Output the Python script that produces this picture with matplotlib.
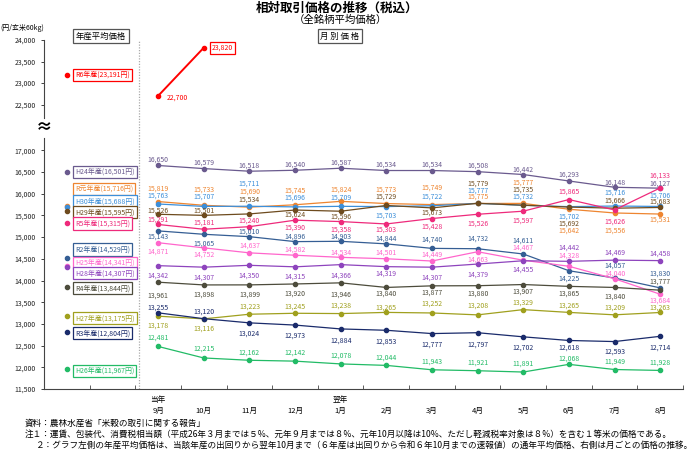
import matplotlib
matplotlib.use("Agg")
import matplotlib.pyplot as plt
from matplotlib.transforms import blended_transform_factory
from matplotlib.lines import Line2D
from matplotlib.ticker import FuncFormatter

plt.rcParams['font.family'] = ['Noto Sans CJK JP', 'DejaVu Sans']

# ---------------- data ----------------
months = ["9月", "10月", "11月", "12月", "1月", "2月", "3月", "4月", "5月", "6月", "7月", "8月"]
year_marks = ["当年", "", "", "", "翌年", "", "", "", "", "", "", ""]

series_names = ["H24", "R元", "H30", "H29", "R5", "R2", "H25", "H28", "R4", "H27", "R3", "H26"]
annual_avg = [16501, 15716, 15688, 15595, 15315, 14529, 14341, 14307, 13844, 13175, 12804, 11967]

h24 = [16650, 16579, 16518, 16540, 16587, 16534, 16534, 16508, 16442, 16293, 16148, 16127]
r1 = [15819, 15733, 15690, 15745, 15824, 15773, 15749, 15775, 15777, 15642, 15556, 15531]
h30 = [15763, 15707, 15711, 15696, 15709, 15703, 15722, 15777, 15732, 15702, 15716, 15706]
h29 = [15526, 15501, 15534, 15624, 15596, 15729, 15673, 15779, 15735, 15692, 15666, 15683]
r5 = [15291, 15181, 15240, 15390, 15358, 15303, 15428, 15526, 15597, 15865, 15626, 16133]
r2 = [15143, 15065, 15010, 14896, 14903, 14844, 14740, 14732, 14611, 14225, 14057, 13830]
h25 = [14871, 14752, 14637, 14582, 14534, 14501, 14449, 14663, 14467, 14328, 14040, 13684]
h28 = [14342, 14307, 14350, 14315, 14366, 14319, 14307, 14379, 14455, 14442, 14469, 14458]
r4 = [13961, 13898, 13899, 13920, 13946, 13840, 13877, 13880, 13907, 13865, 13840, 13777]
h27 = [13178, 13116, 13223, 13245, 13238, 13265, 13252, 13208, 13329, 13265, 13209, 13263]
r3 = [13255, 13120, 13024, 12973, 12884, 12853, 12777, 12797, 12702, 12618, 12593, 12714]
h26 = [12481, 12215, 12162, 12142, 12078, 12044, 11943, 11921, 11891, 12068, 11949, 11928]

r6_name = "R6"
r6_avg = 23191
r6 = [22700, 23820]

series_values = [h24, r1, h30, h29, r5, r2, h25, h28, r4, h27, r3, h26]

# ---------------- styles / layout ----------------
colors = ["#6a5a8e", "#ee8530", "#3d8fd9", "#6e4b1e", "#ee2a7b", "#355e94",
          "#ff66cc", "#8e44bd", "#4d4c3c", "#a0a01e", "#1a2b6b", "#22bb66"]
r6_color = "#ff0000"

# label vertical offsets in pixels (positive = downwards)
label_dy = [
    [-6, -6, -6, -6, -6, -6, -6, -6, -5, -6, -5, -5],
    [-12.6, -16, -15, -14, -12, -14, -16.5, -6.5, -21, 21, 18, 5.5],
    [-8, -10, -22.6, -9, -9, 9, -9, -13, -9, 10, -13, -11],
    [-4, -5, -14.6, 5, 5, -9, 5, -20, -15.6, 16.6, -8, -5.5],
    [-5, -7, -6, 7, 8, 6, 8, 9, 9, -8, 12, -12.5],
    [6, 9, -5, -5, -5, -5, -9, -10, -13.6, 8, -12, -14],
    [9, 7, -7, -6, -5, -6, -6, 8, -13, -11, -5, 6],
    [10, 10, 10, 10, 11, 7, 10, 11, 9, -14, -7, -7],
    [13, 10, 10, 10, 12, 6, 7, 8, 7.5, 7, 9, -9],
    [9, 10, -8, -7, -8, -5, -9, -9, -7, -7, -7, -5],
    [-5, -7, 11, 11, 12, 11, 11, 12, 11, 7, 10, 11],
    [-9, -9, -8, -8, -8, -8, -8, -8, -8, -6, -8, -8],
]
box_dy = [0, -17, -6, 1, 0, -8, -3, 6, 1, 2, 1, 2]

PX = 0.72  # pixel -> point
fs_lab = 5
x_avg = -2
x_sep = -0.42

fig = plt.figure(figsize=(7, 4.5), dpi=100)
L, W = 44 / 700, (683 - 44) / 700
ax_top = fig.add_axes([L, 1 - 118 / 450, W, 78 / 450])
ax = fig.add_axes([L, 1 - 389 / 450, W, 251 / 450])

for a in (ax, ax_top):
    a.set_xlim(-2.5, 11.5)
    a.spines['top'].set_visible(False)
    a.spines['right'].set_visible(False)
    a.spines['left'].set_color('#444444')
    a.spines['left'].set_linewidth(0.8)
    a.yaxis.set_major_formatter(FuncFormatter(lambda v, p: f"{int(v):,}"))
    a.tick_params(axis='y', labelsize=5, length=2, width=0.6, pad=4, colors='#222222')
    a.patch.set_alpha(0)

ax_top.spines['bottom'].set_visible(False)
ax_top.set_xticks([])
ax_top.set_ylim(24000 - 78 / 21.5 * 500, 24000)
ax_top.set_yticks([22500, 23000, 23500, 24000])

ax.set_ylim(11500, 11500 + 251 / 21.7 * 500)
ax.set_yticks(range(11500, 17001, 500))
ax.spines['bottom'].set_color('#444444')
ax.spines['bottom'].set_linewidth(0.8)
ax.set_xticks([i - 0.5 for i in range(-2, 13)])
ax.set_xticklabels([])
ax.tick_params(axis='x', which='major', direction='in', length=3, width=0.6, colors='#444444')
ax.set_xticks(range(len(months)), minor=True)
ax.set_xticklabels([f"{t}\n{m}" for t, m in zip(year_marks, months)], minor=True)
ax.tick_params(axis='x', which='minor', length=0, labelsize=5.5, pad=5)
for lbl in ax.get_xticklabels(minor=True):
    lbl.set_linespacing(1.5)

xs = list(range(len(months)))

# monthly series
for name, vals, c, dys, avg, bdy in zip(series_names, series_values, colors, label_dy, annual_avg, box_dy):
    ax.plot(xs, vals, color=c, lw=0.9, marker='o', ms=3, zorder=3)
    for x, v, d in zip(xs, vals, dys):
        ax.annotate(f"{v:,}", (x, v), xytext=(0, -d * PX), textcoords='offset points',
                    ha='center', va='center', fontsize=fs_lab, color=c, zorder=5)
    ax.plot([x_avg], [avg], 'o', color=c, ms=3, zorder=3)
    ax.annotate(f"{name}年産({avg:,}円)", (x_avg, avg), xytext=(6, -bdy * PX),
                textcoords='offset points', ha='left', va='center', fontsize=5, color=c,
                bbox=dict(boxstyle='square,pad=0.3', fc='white', ec=c, lw=0.9), zorder=6)

# R6
ax_top.plot(xs[:len(r6)], r6, color=r6_color, lw=1.4, marker='o', ms=3, zorder=3)
ax_top.annotate(f"{r6[0]:,}", (0, r6[0]), xytext=(6, -1), textcoords='offset points',
                ha='left', va='center', fontsize=fs_lab, color=r6_color)
ax_top.annotate(f"{r6[1]:,}", (1, r6[1]), xytext=(6, 0), textcoords='offset points',
                ha='left', va='center', fontsize=fs_lab, color=r6_color,
                bbox=dict(boxstyle='square,pad=0.3', fc='white', ec=r6_color, lw=0.9))
ax_top.plot([x_avg], [r6_avg], 'o', color=r6_color, ms=3)
ax_top.annotate(f"{r6_name}年産({r6_avg:,}円)", (x_avg, r6_avg), xytext=(6, 0),
                textcoords='offset points', ha='left', va='center', fontsize=5, color=r6_color,
                bbox=dict(boxstyle='square,pad=0.3', fc='white', ec=r6_color, lw=0.9))

# separator
tr = blended_transform_factory(ax.transData, fig.transFigure)
fig.add_artist(Line2D([x_sep, x_sep], [1 - 389 / 450, 1 - 40 / 450], transform=tr,
                      color='#aaaaaa', lw=0.9, ls=(0, (1, 1.2)), zorder=0))

# headings
fig.text(337 / 700, 1 - 8 / 450, "相対取引価格の推移（税込）", ha='center', va='center',
         fontsize=9, fontweight='bold')
fig.text(340 / 700, 1 - 20 / 450, "（全銘柄平均価格）", ha='center', va='center', fontsize=7.5)
fig.text(0 / 700, 1 - 28 / 450, "(円/玄米60kg)", ha='left', va='center', fontsize=5)
box_kw = dict(boxstyle='square,pad=0.35', fc='white', ec='#555555', lw=0.9)
fig.text(101 / 700, 1 - 36 / 450, "年産平均価格", ha='center', va='center', fontsize=6, bbox=box_kw)
fig.text(340 / 700, 1 - 36 / 450, "月 別 価 格", ha='center', va='center', fontsize=6, bbox=box_kw)
fig.text(44 / 700, 1 - 127 / 450, "≈", ha='center', va='center', fontsize=12, fontweight='bold')

# notes
fig.text(25 / 700, 1 - 423 / 450, "資料：農林水産省「米穀の取引に関する報告」", ha='left', va='center', fontsize=6.2)
fig.text(25 / 700, 1 - 434 / 450,
         "注１：運賃、包装代、消費税相当額（平成26年３月までは５%、元年９月までは８%、元年10月以降は10%、ただし軽減税率対象は８%）を含む１等米の価格である。",
         ha='left', va='center', fontsize=6.2)
fig.text(36 / 700, 1 - 445 / 450,
         "２：グラフ左側の年産平均価格は、当該年産の出回りから翌年10月まで（６年産は出回りから令和６年10月までの速報値）の通年平均価格、右側は月ごとの価格の推移。",
         ha='left', va='center', fontsize=6.2)

fig.savefig("out.png", dpi=100)
